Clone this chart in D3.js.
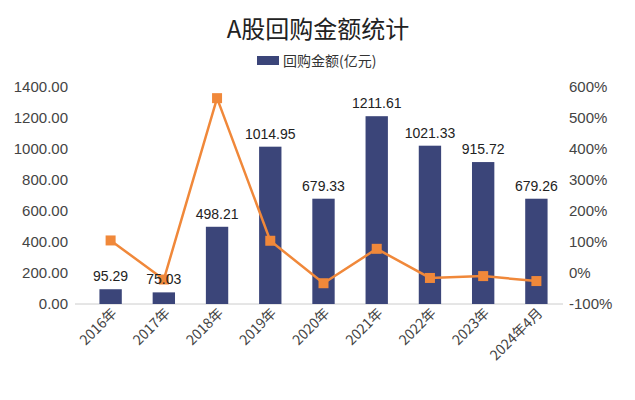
<!DOCTYPE html>
<html><head><meta charset="utf-8">
<script src="https://cdn.jsdelivr.net/npm/d3@7"></script>
<style>body{margin:0;background:#fff;font-family:"Noto Sans CJK SC","Noto Sans",sans-serif}</style>
</head><body><svg id="c" width="635" height="400"></svg>
<script>
const categories=["2016年","2017年","2018年","2019年","2020年","2021年","2022年","2023年","2024年4月"];
const amounts=[95.29,75.03,498.21,1014.95,679.33,1211.61,1021.33,915.72,679.26];
const growth=[105,-21,564,104,-33,78,-16,-10,-26];
const leftTicks=[0,200,400,600,800,1000,1200,1400];
const rightTicks=[-100,0,100,200,300,400,500,600];
const svg=d3.select("#c");
const x=d3.scaleBand().domain(categories).range([84,563]).paddingInner(0.58).paddingOuter(0.29);
const yL=d3.scaleLinear().domain([0,1400]).range([304,87]);
const yR=d3.scaleLinear().domain([-100,600]).range([304,87]);
const blue="#3b4579",orange="#f0883a";
svg.append("text").attr("x",318).attr("y",38).attr("text-anchor","middle").attr("font-size",24).attr("fill","#222").text("A股回购金额统计");
svg.append("rect").attr("x",257).attr("y",56).attr("width",22).attr("height",9).attr("fill",blue);
svg.append("text").attr("x",283).attr("y",66).attr("font-size",14).attr("fill","#333").text("回购金额(亿元)");
const gl=svg.append("g").attr("transform","translate(72,0)").call(d3.axisLeft(yL).tickValues(leftTicks).tickFormat(d3.format(".2f")).tickSize(0).tickPadding(4));
const gr=svg.append("g").attr("transform","translate(563,0)").call(d3.axisRight(yR).tickValues(rightTicks).tickFormat(d=>d+"%").tickSize(0).tickPadding(6));
[gl,gr].forEach(g=>{g.select(".domain").remove();g.selectAll("text").attr("font-size",15).attr("fill","#444").attr("font-family","Liberation Sans, Arial");});
svg.append("line").attr("x1",75).attr("x2",563).attr("y1",304).attr("y2",304).attr("stroke","#ccc");
svg.selectAll(".bar").data(amounts).join("rect").attr("x",(d,i)=>x(categories[i])).attr("width",x.bandwidth())
 .attr("y",d=>yL(d)).attr("height",d=>304-yL(d)).attr("fill",blue);
const cx=i=>x(categories[i])+x.bandwidth()/2;
svg.append("path").datum(growth).attr("fill","none").attr("stroke",orange).attr("stroke-width",2.5)
 .attr("d",d3.line().x((d,i)=>cx(i)).y(d=>yR(d)));
svg.selectAll(".pt").data(growth).join("rect").attr("x",(d,i)=>cx(i)-5).attr("y",d=>yR(d)-5).attr("width",10).attr("height",10).attr("fill",orange);
svg.selectAll(".bl").data(amounts).join("text").attr("x",(d,i)=>cx(i)).attr("y",d=>yL(d)-8)
 .attr("text-anchor","middle").attr("font-size",14).attr("fill","#222").attr("font-family","Liberation Sans, Arial").text(d=>d.toFixed(2));
svg.selectAll(".xl").data(categories).join("text").attr("font-size",14).attr("fill","#444").attr("text-anchor","end")
 .attr("transform",(d,i)=>`translate(${cx(i)+7},${314}) rotate(-45)`).text(d=>d);
</script></body></html>
